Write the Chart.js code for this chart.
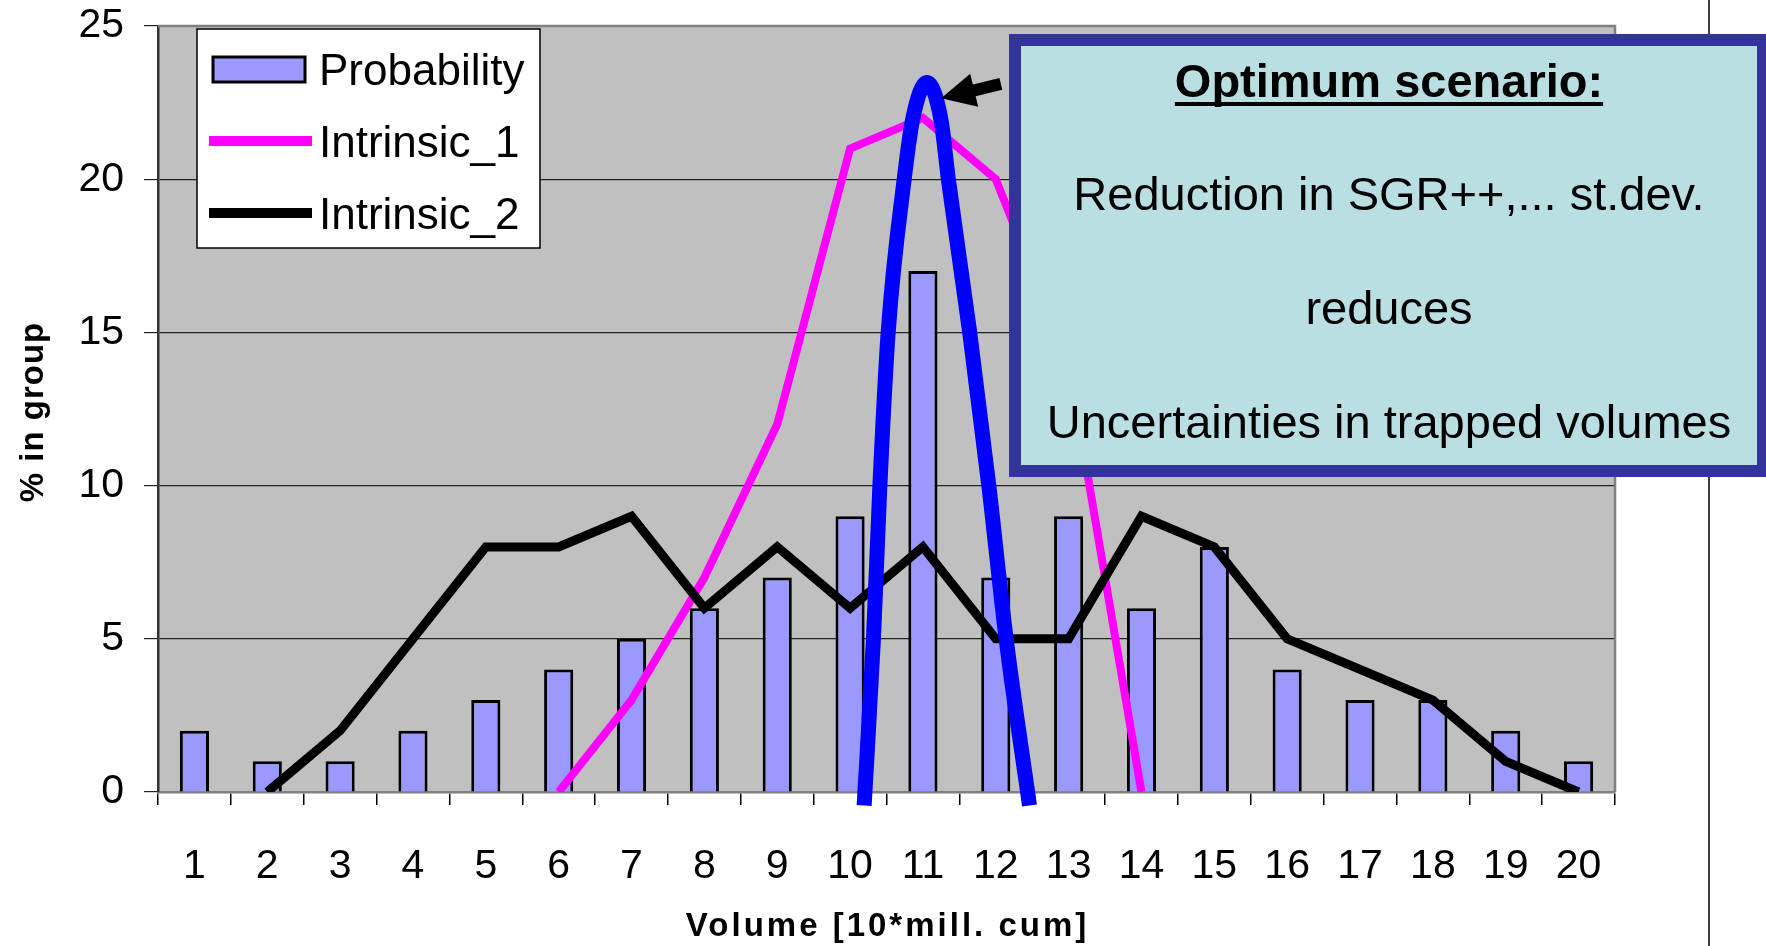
<!DOCTYPE html>
<html>
<head>
<meta charset="utf-8">
<title>Volume distribution</title>
<script src="https://cdn.jsdelivr.net/npm/chart.js@4.4.0/dist/chart.umd.min.js"></script>
<style>
  html, body { margin: 0; padding: 0; background: #fff; }
  #wrap { width: 1766px; height: 946px; }
</style>
</head>
<body>
<div id="wrap"><canvas id="myChart" width="1766" height="946"></canvas></div>
<script>
// volume classes [10*mill. cum]
const volumes = ['1', '2', '3', '4', '5', '6', '7', '8', '9', '10',
                 '11', '12', '13', '14', '15', '16', '17', '18', '19', '20'];
const probability = [2, 1, 1, 2, 3, 4, 5, 6, 7, 9, 17, 7, 9, 6, 8, 4, 3, 3, 2, 1];
const intrinsic1 = [null, null, null, null, null, 0, 3, 7, 12, 21, 22, 20, 14, 0,
                    null, null, null, null, null, null];
const intrinsic2 = [null, 0, 2, 5, 8, 8, 9, 6, 8, 6, 8, 5, 5, 9, 8, 5, 4, 3, 1, 0];
// the hand drawn blue "optimum" curve
const optimumX = [10.193, 10.321, 10.408, 10.523, 10.743, 10.858, 11.055, 11.248, 11.349, 11.642, 11.908, 12.142, 12.463];
const optimumY = [-0.44, 5.0, 9.93, 15.0, 20.0, 21.94, 23.16, 21.94, 20.0, 15.0, 9.93, 5.0, -0.44];
const yTicks = [0, 5, 10, 15, 20, 25];
const boxLines = ['Optimum scenario:', 'Reduction in SGR++,... st.dev.', 'reduces', 'Uncertainties in trapped volumes'];

const FONT = "'Liberation Sans', Arial, sans-serif";

// arrow pointing at the peak (data units)
const arrow = { tip: { x: 11.25, y: 22.64 }, tail: { x: 12.07, y: 23.11 } };

const backdrop = {
  id: 'backdrop',
  beforeDraw(chart) {
    const { ctx, chartArea: a } = chart;
    ctx.save();
    ctx.fillStyle = '#fff';
    ctx.fillRect(0, 0, chart.width, chart.height);
    ctx.fillStyle = '#C0C0C0';
    ctx.fillRect(a.left, a.top, a.right - a.left, a.bottom - a.top);
    // page rule on the right
    ctx.strokeStyle = '#404040';
    ctx.lineWidth = 2;
    ctx.beginPath();
    ctx.moveTo(1709, 0);
    ctx.lineTo(1709, chart.height);
    ctx.stroke();
    ctx.restore();
  },
  beforeDatasetsDraw(chart) {
    const { ctx, chartArea: a } = chart;
    ctx.save();
    ctx.strokeStyle = '#808080';
    ctx.lineWidth = 2.5;
    ctx.beginPath();
    ctx.moveTo(a.left, a.top);
    ctx.lineTo(a.right, a.top);
    ctx.lineTo(a.right, a.bottom);
    ctx.stroke();
    ctx.restore();
  }
};

const extras = {
  id: 'extras',
  afterDraw(chart) {
    const { ctx, chartArea: a } = chart;
    const xs = chart.scales.xl, ys = chart.scales.y;
    ctx.save();

    // axis titles
    ctx.fillStyle = '#000';
    ctx.font = 'bold 33px ' + FONT;
    ctx.letterSpacing = '3px';
    ctx.textAlign = 'center';
    ctx.textBaseline = 'alphabetic';
    ctx.fillText('Volume [10*mill. cum]', (a.left + a.right) / 2 + 1, 936);
    ctx.save();
    ctx.translate(43, 412);
    ctx.rotate(-Math.PI / 2);
    ctx.font = 'bold 33px ' + FONT;
    ctx.letterSpacing = '1px';
    ctx.fillText('% in group', 0, 0);
    ctx.restore();
    ctx.letterSpacing = '0px';

    // legend
    const lx = a.left + 39, ly = a.top + 3;
    ctx.fillStyle = '#fff';
    ctx.fillRect(lx, ly, 343, 219);
    ctx.strokeStyle = '#000';
    ctx.lineWidth = 1.5;
    ctx.strokeRect(lx, ly, 343, 219);
    ctx.font = '44px ' + FONT;
    ctx.textAlign = 'left';
    const items = chart.data.datasets.filter(d => d.label);
    items.forEach((d, i) => {
      const cy = ly + 40 + i * 72;
      if (d.type === 'line') {
        ctx.strokeStyle = d.borderColor;
        ctx.lineWidth = 10;
        ctx.beginPath();
        ctx.moveTo(lx + 12, cy);
        ctx.lineTo(lx + 115, cy);
        ctx.stroke();
      } else {
        ctx.fillStyle = d.backgroundColor;
        ctx.fillRect(lx + 16, cy - 12, 92, 25);
        ctx.strokeStyle = '#000';
        ctx.lineWidth = 3;
        ctx.strokeRect(lx + 16, cy - 12, 92, 25);
      }
      ctx.fillStyle = '#000';
      ctx.fillText(d.label, lx + 122, cy + 16);
    });

    // arrow
    const tx = xs.getPixelForValue(arrow.tip.x), ty = ys.getPixelForValue(arrow.tip.y);
    const sx = xs.getPixelForValue(arrow.tail.x), sy = ys.getPixelForValue(arrow.tail.y);
    const ang = Math.atan2(sy - ty, sx - tx);
    const hl = 34, hw = 17;
    const bx = tx + Math.cos(ang) * hl, by = ty + Math.sin(ang) * hl;
    ctx.strokeStyle = '#000';
    ctx.lineWidth = 12;
    ctx.beginPath();
    ctx.moveTo(bx - Math.cos(ang) * 2, by - Math.sin(ang) * 2);
    ctx.lineTo(sx, sy);
    ctx.stroke();
    ctx.fillStyle = '#000';
    ctx.beginPath();
    ctx.moveTo(tx, ty);
    ctx.lineTo(bx - Math.sin(ang) * hw, by + Math.cos(ang) * hw);
    ctx.lineTo(bx + Math.sin(ang) * hw, by - Math.cos(ang) * hw);
    ctx.closePath();
    ctx.fill();

    // text box
    ctx.fillStyle = '#333399';
    ctx.fillRect(1009, 34, 770, 443);
    ctx.fillStyle = '#BADFE3';
    ctx.fillRect(1021, 46, 736, 419);
    ctx.fillStyle = '#000';
    ctx.textAlign = 'center';
    const cx = 1389;
    const base = [97, 210, 324, 438];
    boxLines.forEach((t, i) => {
      ctx.font = (i === 0 ? 'bold ' : '') + '47px ' + FONT;
      ctx.fillText(t, cx, base[i]);
      if (i === 0) {
        const w = ctx.measureText(t).width;
        ctx.fillRect(cx - w / 2, base[i] + 5, w, 4);
      }
    });
    ctx.restore();
  }
};

const ctx = document.getElementById('myChart');
const myChart = new Chart(ctx, {
  type: 'bar',
  data: {
    labels: volumes,
    datasets: [
      {
        label: 'Probability',
        data: probability,
        backgroundColor: '#9999FF',
        borderColor: '#000',
        borderWidth: 3,
        barPercentage: 0.4,
        categoryPercentage: 1,
        grouped: false,
        order: 3
      },
      {
        type: 'line',
        label: 'Intrinsic_1',
        data: intrinsic1,
        borderColor: '#FF00FF',
        borderWidth: 8,
        pointRadius: 0,
        spanGaps: false,
        order: 2
      },
      {
        type: 'line',
        label: 'Intrinsic_2',
        data: intrinsic2,
        borderColor: '#000',
        borderWidth: 9,
        pointRadius: 0,
        order: 1
      },
      {
        type: 'line',
        data: optimumX.map((x, i) => ({ x: x, y: optimumY[i] })),
        xAxisID: 'xl',
        borderColor: '#0000FF',
        borderWidth: 15,
        pointRadius: 0,
        cubicInterpolationMode: 'monotone',
        clip: false,
        order: 0
      }
    ]
  },
  options: {
    responsive: false,
    devicePixelRatio: 1,
    animation: false,
    events: [],
    layout: { padding: { top: 26, right: 151, left: 0, bottom: 0 } },
    plugins: {
      legend: { display: false },
      tooltip: { enabled: false }
    },
    scales: {
      x: {
        type: 'category',
        offset: true,
        grid: { drawOnChartArea: false, drawTicks: true, tickLength: 13, color: '#000', lineWidth: 1.5, offset: true },
        border: { color: '#808080', width: 2.5 },
        ticks: { color: '#000', font: { family: FONT, size: 41 }, padding: 37, maxRotation: 0, autoSkip: false },
        afterFit: s => { s.height = 154; s.paddingLeft = 0; s.paddingRight = 0; }
      },
      xl: {
        type: 'linear',
        min: 0.5,
        max: 20.5,
        offset: false,
        grid: { offset: false },
        display: false
      },
      y: {
        min: 0,
        max: 25,
        ticks: { stepSize: 5, color: '#000', font: { family: FONT, size: 41 }, padding: 20 },
        afterBuildTicks: s => { s.ticks = yTicks.map(v => ({ value: v })); },
        grid: { color: '#222', lineWidth: 1.2, tickLength: 14 },
        border: { color: '#333', width: 2.5 },
        afterFit: s => { s.width = 158; s.paddingTop = 0; s.paddingBottom = 0; }
      }
    }
  },
  plugins: [backdrop, extras]
});
</script>
</body>
</html>
